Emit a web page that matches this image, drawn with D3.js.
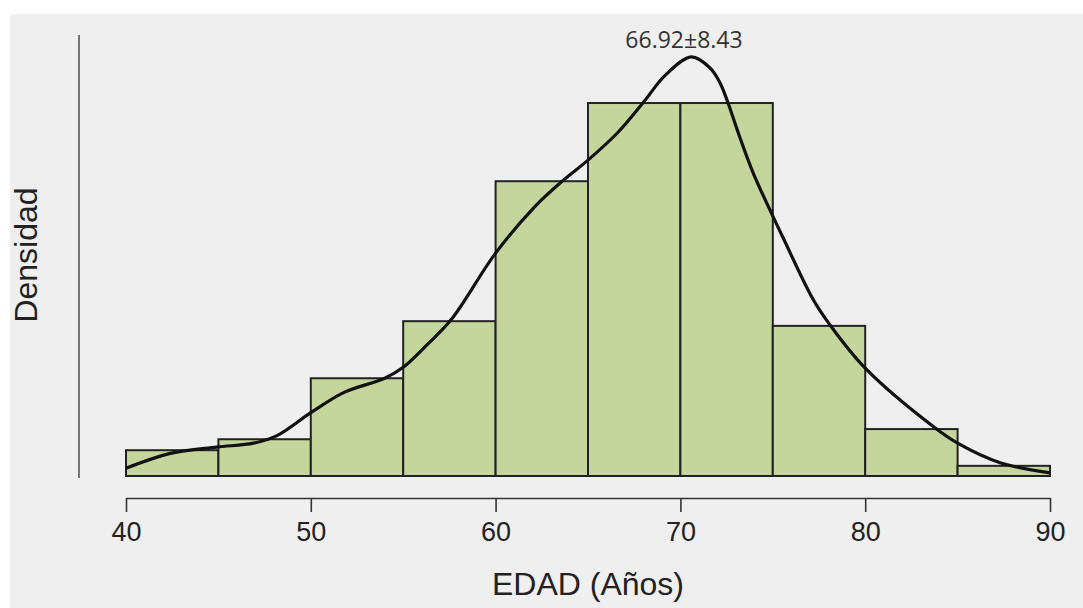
<!DOCTYPE html>
<html>
<head>
<meta charset="utf-8">
<script src="https://cdn.jsdelivr.net/npm/d3@7"></script>
<style>
  html, body { margin: 0; padding: 0; background: #ffffff; }
  svg { display: block; }
</style>
</head>
<body>
<svg id="chart" width="1083" height="608"></svg>
<script>
// ---- data ----
const binStarts = [40, 45, 50, 55, 60, 65, 70, 75, 80, 85];
const binWidth = 5;
const binDensity = [0.0033, 0.0047, 0.0125, 0.0198, 0.0377, 0.0477, 0.0477, 0.0192, 0.0060, 0.0013];
const curveAge = [40, 42.4, 44.9, 46.9, 48.2, 50, 51.8, 54, 55, 56.3, 57.6, 60, 62.1, 63.7, 65, 66.6, 68, 69.2, 70.6, 71.6, 72.14, 72.58, 73.07, 73.93, 74.85, 75.55, 77.2, 78.1, 80, 83.7, 85, 87.3, 90];
const curveDensity = [0.0010, 0.0029, 0.0037, 0.0042, 0.0052, 0.0081, 0.0107, 0.0125, 0.0139, 0.0168, 0.0200, 0.0285, 0.0344, 0.0379, 0.0404, 0.0439, 0.0478, 0.0513, 0.0536, 0.0522, 0.0503, 0.0477, 0.0443, 0.0388, 0.0340, 0.0305, 0.0225, 0.0193, 0.0138, 0.0063, 0.0042, 0.0017, 0.0004];
const xTicks = [40, 50, 60, 70, 80, 90];
const annotation = "66.92±8.43";
const xTitle = "EDAD (Años)";
const yTitle = "Densidad";

// ---- drawing ----
const svg = d3.select("#chart");
svg.append("rect").attr("x", 10).attr("y", 14).attr("width", 1073).attr("height", 594).attr("fill", "#efefef");

const x = d3.scaleLinear().domain([40, 90]).range([126, 1050]);
const y = d3.scaleLinear().domain([0, 0.0564]).range([476, 35]);

// y axis line (no ticks)
svg.append("line")
  .attr("x1", 79).attr("x2", 79)
  .attr("y1", y(0.0564)).attr("y2", y(0) + 2)
  .attr("stroke", "#555").attr("stroke-width", 1.6);

// bars
svg.append("g").selectAll("rect")
  .data(binStarts.map((s, i) => ({ s, d: binDensity[i] })))
  .join("rect")
  .attr("x", d => x(d.s))
  .attr("width", d => x(d.s + binWidth) - x(d.s))
  .attr("y", d => y(d.d))
  .attr("height", d => y(0) - y(d.d))
  .attr("fill", "#c5d69c")
  .attr("stroke", "#222")
  .attr("stroke-width", 2);

// density curve
const line = d3.line()
  .x(d => x(d[0]))
  .y(d => y(d[1]))
  .curve(d3.curveCatmullRom.alpha(0.5));
svg.append("path")
  .datum(curveAge.map((a, i) => [a, curveDensity[i]]))
  .attr("d", line)
  .attr("fill", "none")
  .attr("stroke", "#111")
  .attr("stroke-width", 3.2);

// x axis
const xAxis = d3.axisBottom(x).tickValues(xTicks).tickSize(14).tickSizeOuter(0).tickPadding(10).tickFormat(d3.format("d"));
const gx = svg.append("g").attr("transform", "translate(0,498)").call(xAxis);
gx.select(".domain").attr("stroke", "#333").attr("stroke-width", 1.6);
gx.selectAll(".tick line").attr("stroke", "#333").attr("stroke-width", 1.6);
gx.selectAll(".tick text")
  .attr("font-family", "Liberation Sans, Arial, sans-serif")
  .attr("font-size", 27)
  .attr("fill", "#222");

// axis titles
svg.append("text")
  .attr("x", x(65)).attr("y", 595)
  .attr("text-anchor", "middle")
  .attr("font-family", "Liberation Sans, Arial, sans-serif")
  .attr("font-size", 32)
  .attr("fill", "#222")
  .text(xTitle);

svg.append("text")
  .attr("transform", "translate(37,255) rotate(-90)")
  .attr("text-anchor", "middle")
  .attr("font-family", "Liberation Sans, Arial, sans-serif")
  .attr("font-size", 32)
  .attr("fill", "#222")
  .text(yTitle);

// annotation
svg.append("text")
  .attr("x", 684).attr("y", 48)
  .attr("text-anchor", "middle")
  .attr("font-family", "Open Sans, sans-serif")
  .attr("font-size", 23)
  .attr("fill", "#333")
  .text(annotation);
</script>
</body>
</html>
